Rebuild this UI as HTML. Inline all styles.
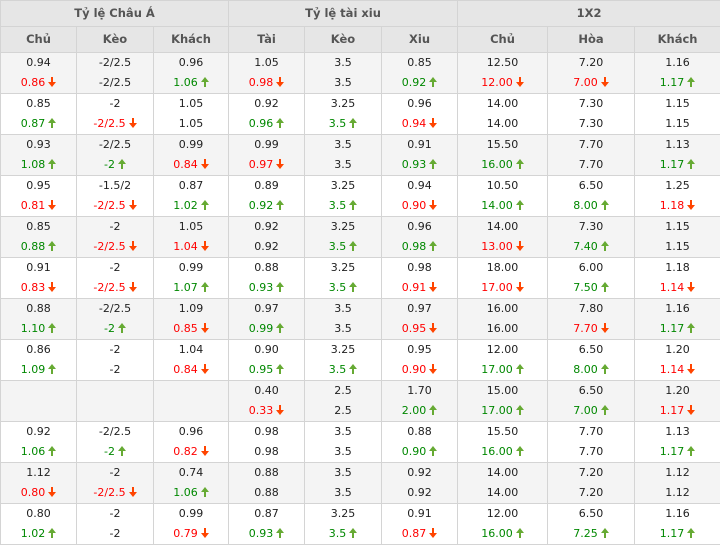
<!DOCTYPE html>
<html><head><meta charset="utf-8"><style>
*{margin:0;padding:0;box-sizing:border-box}
body{width:720px;height:544px;overflow:hidden;background:#fff;font-family:"DejaVu Sans","Liberation Sans",sans-serif;font-size:11px;color:#222}
table{border-collapse:collapse;table-layout:fixed;width:720px}
td,th{border:1px solid #d4d4d4;text-align:center;vertical-align:top}
th{background:#e6e6e6;color:#555;font-weight:bold;height:26px;line-height:24px;font-size:11.5px}
tr.d td{height:40px;padding:0}
tr.g td{background:#f4f4f4}
td div{height:20px;line-height:20px;white-space:nowrap}
.r{color:#f00}.n{color:#080}
i{display:inline-block;width:8px;height:10px;position:relative;margin-left:3px;vertical-align:-1px}
i::before{content:"";position:absolute;left:0;border-left:4px solid transparent;border-right:4px solid transparent}
i::after{content:"";position:absolute;left:3px;width:2px;height:6px}
i.u::before{top:0;border-bottom:5px solid #6a3}
i.u::after{top:4px;background:#6a3}
i.w::before{bottom:0;border-top:5px solid #f40}
i.w::after{top:0;background:#f40}
</style></head><body>
<table>
<colgroup><col style="width:76px"><col style="width:77px"><col style="width:75px"><col style="width:76px"><col style="width:77px"><col style="width:76px"><col style="width:90px"><col style="width:87px"><col style="width:86px"></colgroup>
<tr><th colspan="3">Tỷ lệ Châu Á</th><th colspan="3">Tỷ lệ tài xiu</th><th colspan="3">1X2</th></tr>
<tr><th>Chủ</th><th>Kèo</th><th>Khách</th><th>Tài</th><th>Kèo</th><th>Xiu</th><th>Chủ</th><th>Hòa</th><th>Khách</th></tr>
<tr class="d g"><td><div>0.94</div><div class="r">0.86<i class="w"></i></div></td><td><div>-2/2.5</div><div>-2/2.5</div></td><td><div>0.96</div><div class="n">1.06<i class="u"></i></div></td><td><div>1.05</div><div class="r">0.98<i class="w"></i></div></td><td><div>3.5</div><div>3.5</div></td><td><div>0.85</div><div class="n">0.92<i class="u"></i></div></td><td><div>12.50</div><div class="r">12.00<i class="w"></i></div></td><td><div>7.20</div><div class="r">7.00<i class="w"></i></div></td><td><div>1.16</div><div class="n">1.17<i class="u"></i></div></td></tr>
<tr class="d"><td><div>0.85</div><div class="n">0.87<i class="u"></i></div></td><td><div>-2</div><div class="r">-2/2.5<i class="w"></i></div></td><td><div>1.05</div><div>1.05</div></td><td><div>0.92</div><div class="n">0.96<i class="u"></i></div></td><td><div>3.25</div><div class="n">3.5<i class="u"></i></div></td><td><div>0.96</div><div class="r">0.94<i class="w"></i></div></td><td><div>14.00</div><div>14.00</div></td><td><div>7.30</div><div>7.30</div></td><td><div>1.15</div><div>1.15</div></td></tr>
<tr class="d g"><td><div>0.93</div><div class="n">1.08<i class="u"></i></div></td><td><div>-2/2.5</div><div class="n">-2<i class="u"></i></div></td><td><div>0.99</div><div class="r">0.84<i class="w"></i></div></td><td><div>0.99</div><div class="r">0.97<i class="w"></i></div></td><td><div>3.5</div><div>3.5</div></td><td><div>0.91</div><div class="n">0.93<i class="u"></i></div></td><td><div>15.50</div><div class="n">16.00<i class="u"></i></div></td><td><div>7.70</div><div>7.70</div></td><td><div>1.13</div><div class="n">1.17<i class="u"></i></div></td></tr>
<tr class="d"><td><div>0.95</div><div class="r">0.81<i class="w"></i></div></td><td><div>-1.5/2</div><div class="r">-2/2.5<i class="w"></i></div></td><td><div>0.87</div><div class="n">1.02<i class="u"></i></div></td><td><div>0.89</div><div class="n">0.92<i class="u"></i></div></td><td><div>3.25</div><div class="n">3.5<i class="u"></i></div></td><td><div>0.94</div><div class="r">0.90<i class="w"></i></div></td><td><div>10.50</div><div class="n">14.00<i class="u"></i></div></td><td><div>6.50</div><div class="n">8.00<i class="u"></i></div></td><td><div>1.25</div><div class="r">1.18<i class="w"></i></div></td></tr>
<tr class="d g"><td><div>0.85</div><div class="n">0.88<i class="u"></i></div></td><td><div>-2</div><div class="r">-2/2.5<i class="w"></i></div></td><td><div>1.05</div><div class="r">1.04<i class="w"></i></div></td><td><div>0.92</div><div>0.92</div></td><td><div>3.25</div><div class="n">3.5<i class="u"></i></div></td><td><div>0.96</div><div class="n">0.98<i class="u"></i></div></td><td><div>14.00</div><div class="r">13.00<i class="w"></i></div></td><td><div>7.30</div><div class="n">7.40<i class="u"></i></div></td><td><div>1.15</div><div>1.15</div></td></tr>
<tr class="d"><td><div>0.91</div><div class="r">0.83<i class="w"></i></div></td><td><div>-2</div><div class="r">-2/2.5<i class="w"></i></div></td><td><div>0.99</div><div class="n">1.07<i class="u"></i></div></td><td><div>0.88</div><div class="n">0.93<i class="u"></i></div></td><td><div>3.25</div><div class="n">3.5<i class="u"></i></div></td><td><div>0.98</div><div class="r">0.91<i class="w"></i></div></td><td><div>18.00</div><div class="r">17.00<i class="w"></i></div></td><td><div>6.00</div><div class="n">7.50<i class="u"></i></div></td><td><div>1.18</div><div class="r">1.14<i class="w"></i></div></td></tr>
<tr class="d g"><td><div>0.88</div><div class="n">1.10<i class="u"></i></div></td><td><div>-2/2.5</div><div class="n">-2<i class="u"></i></div></td><td><div>1.09</div><div class="r">0.85<i class="w"></i></div></td><td><div>0.97</div><div class="n">0.99<i class="u"></i></div></td><td><div>3.5</div><div>3.5</div></td><td><div>0.97</div><div class="r">0.95<i class="w"></i></div></td><td><div>16.00</div><div>16.00</div></td><td><div>7.80</div><div class="r">7.70<i class="w"></i></div></td><td><div>1.16</div><div class="n">1.17<i class="u"></i></div></td></tr>
<tr class="d"><td><div>0.86</div><div class="n">1.09<i class="u"></i></div></td><td><div>-2</div><div>-2</div></td><td><div>1.04</div><div class="r">0.84<i class="w"></i></div></td><td><div>0.90</div><div class="n">0.95<i class="u"></i></div></td><td><div>3.25</div><div class="n">3.5<i class="u"></i></div></td><td><div>0.95</div><div class="r">0.90<i class="w"></i></div></td><td><div>12.00</div><div class="n">17.00<i class="u"></i></div></td><td><div>6.50</div><div class="n">8.00<i class="u"></i></div></td><td><div>1.20</div><div class="r">1.14<i class="w"></i></div></td></tr>
<tr class="d g"><td></td><td></td><td></td><td><div>0.40</div><div class="r">0.33<i class="w"></i></div></td><td><div>2.5</div><div>2.5</div></td><td><div>1.70</div><div class="n">2.00<i class="u"></i></div></td><td><div>15.00</div><div class="n">17.00<i class="u"></i></div></td><td><div>6.50</div><div class="n">7.00<i class="u"></i></div></td><td><div>1.20</div><div class="r">1.17<i class="w"></i></div></td></tr>
<tr class="d"><td><div>0.92</div><div class="n">1.06<i class="u"></i></div></td><td><div>-2/2.5</div><div class="n">-2<i class="u"></i></div></td><td><div>0.96</div><div class="r">0.82<i class="w"></i></div></td><td><div>0.98</div><div>0.98</div></td><td><div>3.5</div><div>3.5</div></td><td><div>0.88</div><div class="n">0.90<i class="u"></i></div></td><td><div>15.50</div><div class="n">16.00<i class="u"></i></div></td><td><div>7.70</div><div>7.70</div></td><td><div>1.13</div><div class="n">1.17<i class="u"></i></div></td></tr>
<tr class="d g"><td><div>1.12</div><div class="r">0.80<i class="w"></i></div></td><td><div>-2</div><div class="r">-2/2.5<i class="w"></i></div></td><td><div>0.74</div><div class="n">1.06<i class="u"></i></div></td><td><div>0.88</div><div>0.88</div></td><td><div>3.5</div><div>3.5</div></td><td><div>0.92</div><div>0.92</div></td><td><div>14.00</div><div>14.00</div></td><td><div>7.20</div><div>7.20</div></td><td><div>1.12</div><div>1.12</div></td></tr>
<tr class="d"><td><div>0.80</div><div class="n">1.02<i class="u"></i></div></td><td><div>-2</div><div>-2</div></td><td><div>0.99</div><div class="r">0.79<i class="w"></i></div></td><td><div>0.87</div><div class="n">0.93<i class="u"></i></div></td><td><div>3.25</div><div class="n">3.5<i class="u"></i></div></td><td><div>0.91</div><div class="r">0.87<i class="w"></i></div></td><td><div>12.00</div><div class="n">16.00<i class="u"></i></div></td><td><div>6.50</div><div class="n">7.25<i class="u"></i></div></td><td><div>1.16</div><div class="n">1.17<i class="u"></i></div></td></tr>
</table>
</body></html>
